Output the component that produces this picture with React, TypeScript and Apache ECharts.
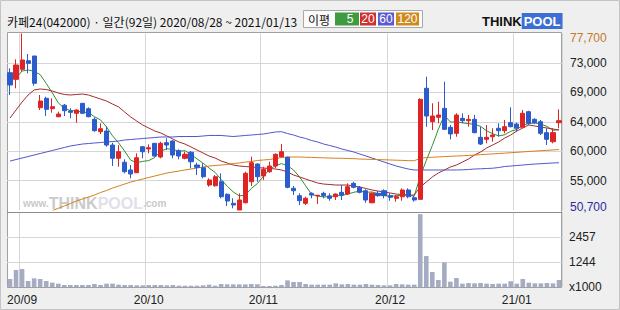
import React, { useEffect, useRef } from "react";
import * as echarts from "echarts";

// ---- data -------------------------------------------------------------
const tradingDays: [string, number[]][] = [
  ["2020-08", [28, 31]],
  ["2020-09", [1, 2, 3, 4, 7, 8, 9, 10, 11, 14, 15, 16, 17, 18, 21, 22, 23, 24, 25, 28, 29]],
  ["2020-10", [5, 6, 7, 8, 12, 13, 14, 15, 16, 19, 20, 21, 22, 23, 26, 27, 28, 29, 30]],
  ["2020-11", [2, 3, 4, 5, 6, 9, 10, 11, 12, 13, 16, 17, 18, 19, 20, 23, 24, 25, 26, 27, 30]],
  ["2020-12", [1, 2, 3, 4, 7, 8, 9, 10, 11, 14, 15, 16, 17, 18, 21, 22, 23, 24, 28, 29, 30]],
  ["2021-01", [4, 5, 6, 7, 8, 11, 12, 13]],
];
const dates: string[] = tradingDays.flatMap(([m, ds]) =>
  ds.map((d) => `${m}-${String(d).padStart(2, "0")}`)
);

const opens = [
  71700, 70690, 72220, 73540, 74260, 66350, 67790, 66200, 64970, 66730,
  65840, 65490, 67020, 66200, 64570, 62680, 62780, 60640, 58610, 58000,
  56820, 56400, 60380, 60030, 60900, 58810, 61000, 61250, 59770, 58610,
  59530, 57580, 57170, 54520, 54410, 55030, 53100, 51720, 50700, 51810,
  55030, 57730, 55900, 56560, 57430, 58850, 58760, 54020, 52890, 51720,
  53250, 52860, 53250, 52860, 52730, 53400, 53140, 54780, 54170, 53650,
  51810, 53250, 53650, 52890, 52490, 52730, 53760, 52580, 52330, 69320,
  64210, 64880, 66250, 63350, 62430, 64720, 64360, 64570, 61820, 61510,
  61910, 63200, 62830, 64060, 63850, 63350, 65740, 64570, 64210, 62530,
  61150, 64060,
];
const closes = [
  69820, 72880, 73650, 73140, 70080, 67370, 66100, 66500, 65380, 65890,
  65640, 65990, 65490, 64970, 62830, 63130, 60640, 58610, 59620, 56560,
  56210, 58700, 59620, 60230, 58960, 60900, 60640, 59110, 58960, 59220,
  58090, 57230, 55790, 55290, 55790, 52730, 52070, 51460, 52230, 56310,
  57930, 55790, 56920, 57430, 59220, 59620, 54170, 53650, 52120, 52490,
  52990, 52960, 52890, 52490, 53140, 52990, 54260, 54170, 53400, 52230,
  53250, 52890, 52890, 52640, 52730, 53760, 52730, 52230, 67630, 65080,
  65080, 65230, 63040, 62330, 65230, 64360, 64570, 62530, 60790, 61820,
  62170, 62830, 63440, 63440, 63200, 65490, 63960, 64060, 62430, 61510,
  62530, 64360,
];
const lows = [
  68290, 69320, 71860, 71610, 69700, 66000, 65080, 65580, 64880, 65080,
  64730, 64050, 65380, 64880, 62680, 62320, 60380, 57430, 57320, 56310,
  55550, 56400, 58610, 59370, 58860, 58610, 59880, 58610, 58450, 58450,
  57080, 56050, 55550, 54260, 54260, 52490, 51310, 50960, 50700, 51720,
  54370, 55030, 55290, 56400, 57080, 58760, 54020, 52990, 51460, 51460,
  52490, 51610, 52490, 52120, 52230, 52230, 52990, 54020, 53250, 51810,
  51720, 52730, 52490, 52120, 51970, 52120, 52490, 51970, 52230, 63440,
  62940, 63960, 62940, 61510, 61910, 63960, 63440, 62430, 60640, 60900,
  61150, 61910, 62430, 63350, 62680, 63350, 63700, 63850, 62170, 60640,
  60900, 63200,
];
const highs = [
  72380, 73750, 77700, 74560, 74260, 68290, 68030, 67790, 65740, 66910,
  66260, 66100, 67070, 66410, 64880, 63960, 63440, 61000, 60640, 58450,
  57580, 59370, 60490, 60750, 60950, 61150, 61670, 61410, 59980, 59620,
  59720, 57930, 57840, 55550, 56050, 56310, 53250, 52490, 53250, 56560,
  58860, 57840, 57320, 58090, 59370, 60790, 58860, 54370, 53250, 52730,
  53400, 52990, 53500, 53250, 53250, 54520, 54780, 55030, 54370, 53860,
  53400, 53600, 53860, 53250, 52990, 54020, 54020, 52840, 67790, 71090,
  67020, 67270, 70330, 63700, 65490, 65490, 65230, 65230, 63440, 63700,
  63200, 63960, 64470, 66410, 64060, 66000, 65890, 64720, 64470, 63200,
  63200, 66100,
];
const volumes = [
  393, 835, 884, 295, 425, 393, 295, 213, 164, 98,
  98, 98, 98, 98, 147, 98, 164, 164, 115, 98,
  98, 82, 82, 98, 98, 98, 82, 98, 65, 65,
  65, 65, 82, 115, 65, 147, 131, 131, 131, 131,
  147, 131, 49, 49, 65, 98, 327, 245, 245, 147,
  115, 115, 115, 115, 180, 131, 147, 115, 115, 147,
  115, 98, 82, 82, 147, 131, 115, 115, 3584, 1522,
  737, 344, 1211, 262, 442, 164, 196, 180, 196, 164,
  147, 164, 164, 278, 164, 393, 213, 180, 180, 196,
  180, 344,
];
const ma5 = [
  null, 70890, 71960, 72120, 71910, 71420, 70070, 68640, 67090, 66250,
  65900, 65880, 65680, 65600, 64980, 64480, 63410, 62040, 60970, 59710,
  58330, 57940, 58140, 58260, 58740, 59680, 60070, 59970, 59710, 59770,
  59200, 58520, 57860, 57120, 56440, 55370, 54330, 53470, 52860, 52960,
  54000, 54740, 55840, 56880, 57460, 57800, 57470, 56820, 55760, 54410,
  53080, 52840, 52690, 52760, 52890, 52890, 53150, 53410, 53590, 53410,
  53460, 53190, 52930, 52780, 52880, 52980, 52950, 52820, 55820, 58290,
  60550, 63050, 65210, 64150, 64180, 64040, 63910, 63800, 63500, 62810,
  62380, 62030, 62210, 62740, 63020, 63680, 63910, 64030, 63830, 63490,
  62900, 62980,
];
const ma20 = [
  64770, 66000, 67220, 68290, 69060, 69210, 69130, 68900, 68600, 68370,
  68290, 68370, 68440, 68290, 67990, 67680, 67370, 66910, 66460, 65690,
  64930, 64310, 63700, 63240, 62780, 62480, 62020, 61560, 61100, 60790,
  60340, 59880, 59420, 58960, 58650, 58190, 57890, 57580, 57430, 57350,
  57280, 57200, 57120, 57050, 56970, 56820, 56510, 56050, 55750, 55440,
  55130, 54830, 54670, 54600, 54520, 54520, 54520, 54370, 54210, 53990,
  53760, 53600, 53450, 53300, 53140, 53070, 52990, 52990, 54210, 54980,
  55750, 56360, 56820, 57280, 57580, 58040, 58500, 59110, 59570, 60180,
  60640, 61100, 61710, 62170, 62780, 63240, 63700, 63550, 63400, 63240,
  63090, 62940,
];
const ma60 = [
  58190, 58420, 58650, 58880, 59110, 59340, 59570, 59800, 60030, 60260,
  60490, 60640, 60790, 60870, 60950, 61020, 61100, 61180, 61250, 61410,
  61480, 61560, 61640, 61710, 61790, 61870, 61870, 61870, 61940, 61940,
  61940, 61940, 62020, 62100, 62100, 62100, 62020, 61940, 62020, 62100,
  62170, 62250, 62320, 62480, 62630, 62680, 62400, 62170, 61870, 61640,
  61330, 61100, 60790, 60560, 60330, 60030, 59800, 59570, 59260, 58960,
  58650, 58350, 58040, 57730, 57430, 57200, 56970, 56820, 56820, 56820,
  56820, 56820, 56820, 56820, 56820, 56850, 56890, 56970, 57000, 57050,
  57090, 57200, 57350, 57430, 57500, 57580, 57660, 57730, 57780, 57840,
  57890, 57930,
];
const ma120 = [
  null, null, null, null, null, null, null, 50600, 50960, 51310,
  51690, 52070, 52380, 52690, 52990, 53370, 53680, 54060, 54370, 54670,
  54980, 55210, 55440, 55670, 55900, 56130, 56360, 56510, 56660, 56820,
  56970, 57120, 57280, 57430, 57510, 57580, 57660, 57810, 57890, 58040,
  58120, 58270, 58350, 58420, 58580, 58730, 58810, 58810, 58810, 58770,
  58740, 58710, 58680, 58650, 58620, 58610, 58580, 58550, 58500, 58470,
  58440, 58410, 58380, 58350, 58320, 58290, 58250, 58240, 58580, 58730,
  58770, 58820, 58870, 58910, 58960, 59000, 59050, 59100, 59160, 59220,
  59280, 59340, 59400, 59460, 59520, 59590, 59650, 59710, 59770, 59830,
  59890, 59950,
];

const priceTickLabels = ["50,700", "55,000", "60,000", "64,000", "69,000", "73,000", "77,700"];
const volumeTickLabels = ["x1000", "1244", "2457", ""];
const maLegend = ["5", "20", "60", "120"];
const headerText = "카페24(042000) · 일간(92일) 2020/08/28 ~ 2021/01/13";

const PRICE_MIN = 50700;
const PRICE_MAX = 77700;
const VOL_MAX = 3690;
const VOL_STEP = 1230;

// ---- styles -----------------------------------------------------------
const UP = "#de2424";
const DOWN = "#2a5ccc";
const GRID_LINE = "#d6d6d6";
const MA_COLORS = ["#2f8f2f", "#a52a2a", "#5454cc", "#d4801c"];
const LEGEND_COLORS = ["#3f9b3f", "#cf3030", "#5a5ad2", "#d08a1c"];
const FONT = "'Liberation Sans', Arial, sans-serif";
const KFONT = "'Noto Sans CJK KR', sans-serif";

const monthStart = dates.map((d, i) => i > 0 && d.slice(0, 7) !== dates[i - 1].slice(0, 7));
const isMonthStart = (index: number) => monthStart[index];

export default function App() {
  const ref = useRef<HTMLDivElement | null>(null);

  useEffect(() => {
    document.body.style.margin = "0";
    if (!ref.current) return;
    const chart = echarts.init(ref.current, undefined, { renderer: "svg" });

    const candleData = dates.map((_, i) => [opens[i], closes[i], lows[i], highs[i]]);
    const maSeries = [ma5, ma20, ma60, ma120].map((arr, k) => ({
      type: "line",
      name: `MA${maLegend[k]}`,
      xAxisIndex: 0,
      yAxisIndex: 0,
      data: arr,
      showSymbol: false,
      symbol: "none",
      connectNulls: false,
      lineStyle: { width: 1, color: MA_COLORS[k] },
      itemStyle: { color: MA_COLORS[k] },
      z: 3,
      silent: true,
    }));

    const legendX = [335, 360, 378, 396];
    const legendW = [24, 16, 16, 23];
    const legendTextX = [350, 368, 386, 407.5];

    const option: any = {
      animation: false,
      textStyle: { fontFamily: FONT },
      grid: [
        { left: 7, top: 33.5, width: 555, height: 176.5 },
        { left: 7, top: 212, width: 555, height: 75 },
      ],
      xAxis: [
        {
          type: "category",
          gridIndex: 0,
          data: dates,
          boundaryGap: true,
          axisLine: { show: false },
          axisTick: { show: false },
          axisLabel: { show: false },
          splitLine: { show: true, interval: isMonthStart, lineStyle: { color: GRID_LINE, width: 1 } },
        },
        {
          type: "category",
          gridIndex: 1,
          data: dates,
          boundaryGap: true,
          axisLine: { show: false },
          axisTick: { show: false },
          axisLabel: {
            show: true,
            interval: isMonthStart,
            margin: 7,
            color: "#222",
            fontSize: 12,
            fontFamily: FONT,
            formatter: (v: string) => `${v.slice(2, 4)}/${v.slice(5, 7)}`,
          },
          splitLine: { show: true, interval: isMonthStart, lineStyle: { color: GRID_LINE, width: 1 } },
        },
      ],
      yAxis: [
        { type: "value", gridIndex: 0, min: PRICE_MIN, max: PRICE_MAX, show: false, position: "left" },
        {
          type: "value",
          gridIndex: 0,
          position: "right",
          min: 0,
          max: 6,
          interval: 1,
          axisLine: { show: false },
          axisTick: { show: false },
          axisLabel: {
            margin: 8,
            color: "#222",
            fontSize: 12,
            fontFamily: FONT,
            formatter: (v: number) => {
              const i = Math.round(v);
              const t = priceTickLabels[i] ?? "";
              if (i === 6) return `{max|${t}}`;
              if (i === 0) return `{min|${t}}`;
              return t;
            },
            rich: {
              max: { color: "#c27a2c", fontSize: 12, fontFamily: FONT, padding: [9, 0, 0, 0] },
              min: { color: "#2b2b99", fontSize: 12, fontFamily: FONT, padding: [0, 0, 7, 0] },
            },
          },
          splitLine: {
            show: true,
            lineStyle: {
              color: ["rgba(0,0,0,0)", GRID_LINE, GRID_LINE, GRID_LINE, GRID_LINE, GRID_LINE, "rgba(0,0,0,0)"],
              width: 1,
            },
          },
        },
        {
          type: "value",
          gridIndex: 1,
          position: "right",
          min: 0,
          max: VOL_MAX,
          interval: VOL_STEP,
          axisLine: { show: false },
          axisTick: { show: false },
          axisLabel: {
            margin: 7,
            color: "#222",
            fontSize: 12,
            fontFamily: FONT,
            formatter: (v: number) => volumeTickLabels[Math.round(v / VOL_STEP)] ?? "",
          },
          splitLine: {
            show: true,
            lineStyle: { color: ["rgba(0,0,0,0)", GRID_LINE, GRID_LINE, "rgba(0,0,0,0)"], width: 1 },
          },
        },
      ],
      series: [
        ...maSeries,
        {
          type: "candlestick",
          xAxisIndex: 0,
          yAxisIndex: 0,
          data: candleData,
          barWidth: 4.6,
          z: 5,
          silent: true,
          itemStyle: { color: UP, color0: DOWN, borderColor: UP, borderColor0: DOWN, borderWidth: 1 },
        },
        {
          type: "bar",
          xAxisIndex: 1,
          yAxisIndex: 2,
          data: volumes,
          barWidth: 4.6,
          silent: true,
          itemStyle: { color: "#a4abc2" },
        },
      ],
      graphic: [
        {
          type: "rect",
          z: -20,
          silent: true,
          shape: { x: 0.5, y: 0.5, width: 619, height: 309 },
          style: { fill: "#efefef", stroke: "#c4c4c4", lineWidth: 1 },
        },
        {
          type: "rect",
          z: -10,
          silent: true,
          shape: { x: 7.5, y: 32.5, width: 554, height: 255 },
          style: { fill: "#ffffff", stroke: "#a0a0a0", lineWidth: 1 },
        },
        {
          type: "line",
          z: 10,
          silent: true,
          shape: { x1: 7, y1: 212.5, x2: 562, y2: 212.5 },
          style: { stroke: "#8c8c8c", lineWidth: 1 },
        },
        {
          type: "text",
          z: -5,
          silent: true,
          x: 23,
          y: 211,
          style: {
            text: "{a|www.}{b|THINK}{c|POOL}{a|.com}",
            verticalAlign: "bottom",
            fontFamily: FONT,
            rich: {
              a: { fontSize: 10, fontWeight: "bold", fill: "#cacaca", fontFamily: FONT },
              b: { fontSize: 16, fontWeight: "bold", fill: "#cbcbcb", fontFamily: FONT },
              c: { fontSize: 16, fontWeight: "bold", fill: "#e0e1ea", fontFamily: FONT },
            },
          },
        },
        {
          type: "text",
          silent: true,
          x: 7,
          y: 21,
          style: {
            text: headerText,
            fill: "#111",
            fontSize: 12,
            fontFamily: KFONT,
            verticalAlign: "middle",
          },
        },
        {
          type: "rect",
          silent: true,
          shape: { x: 303.5, y: 10.5, width: 119, height: 17 },
          style: { fill: "#fbfbfb", stroke: "#a8a8a8", lineWidth: 1 },
        },
        {
          type: "text",
          silent: true,
          x: 308,
          y: 19,
          style: { text: "이평", fill: "#111", fontSize: 12, fontFamily: KFONT, verticalAlign: "middle" },
        },
        ...maLegend.flatMap((label, k) => [
          {
            type: "rect",
            silent: true,
            shape: { x: legendX[k], y: 12.5, width: legendW[k], height: 13 },
            style: { fill: LEGEND_COLORS[k] },
          },
          {
            type: "text",
            silent: true,
            x: legendTextX[k],
            y: 19,
            style: {
              text: label,
              fill: "#ffffff",
              fontSize: 12,
              fontFamily: FONT,
              align: "center",
              verticalAlign: "middle",
            },
          },
        ]),
        {
          type: "text",
          silent: true,
          x: 482,
          y: 21,
          style: {
            text: "{t|THINK}{p|POOL}",
            verticalAlign: "middle",
            fontFamily: FONT,
            rich: {
              t: { fontSize: 13, fontWeight: "bold", fill: "#111", fontFamily: FONT },
              p: {
                fontSize: 13,
                fontWeight: "bold",
                fill: "#ffffff",
                backgroundColor: "#3b6fd4",
                padding: [2, 2, 1, 2],
                fontFamily: FONT,
              },
            },
          },
        },
      ],
    };

    chart.setOption(option);
    return () => chart.dispose();
  }, []);

  return <div ref={ref} style={{ width: 620, height: 310 }} />;
}
